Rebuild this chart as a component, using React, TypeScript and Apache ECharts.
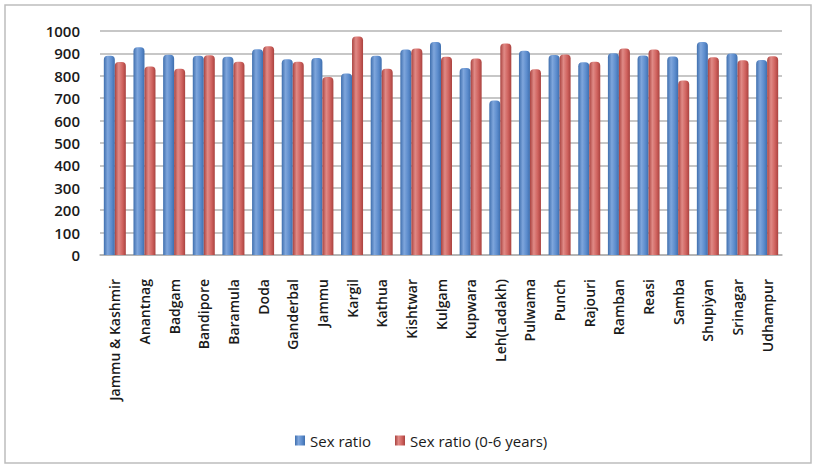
import React, { useEffect, useRef } from "react";
import * as echarts from "echarts";

const districts = [
  "Jammu & Kashmir", "Anantnag", "Badgam", "Bandipore", "Baramula", "Doda",
  "Ganderbal", "Jammu", "Kargil", "Kathua", "Kishtwar", "Kulgam", "Kupwara",
  "Leh(Ladakh)", "Pulwama", "Punch", "Rajouri", "Ramban", "Reasi", "Samba",
  "Shupiyan", "Srinagar", "Udhampur",
];

const sexRatio = [
  889, 927, 894, 889, 885, 919, 874, 880, 810, 890, 917, 951, 835,
  690, 912, 893, 860, 901, 891, 886, 951, 900, 870,
];

const childSexRatio = [
  862, 841, 832, 892, 863, 932, 863, 795, 976, 831, 922, 885, 877,
  944, 829, 895, 863, 922, 917, 779, 883, 869, 887,
];

const yTicks = [0, 100, 200, 300, 400, 500, 600, 700, 800, 900, 1000];

const cylinder = (light: string, mid: string, dark: string) =>
  new echarts.graphic.LinearGradient(0, 0, 1, 0, [
    { offset: 0, color: dark },
    { offset: 0.35, color: light },
    { offset: 0.7, color: mid },
    { offset: 1, color: dark },
  ]);

export default function App() {
  const ref = useRef<HTMLDivElement>(null);

  useEffect(() => {
    if (!ref.current) return;
    const chart = echarts.init(ref.current, null, { renderer: "svg" });
    const font = "'Open Sans', 'Noto Sans', sans-serif";
    chart.setOption({
      animation: false,
      backgroundColor: "#ffffff",
      graphic: [
        {
          type: "rect",
          shape: { x: 5, y: 5, width: 806, height: 458 },
          style: { fill: "none", stroke: "#bdbdbd", lineWidth: 1.5 },
          silent: true,
        },
      ],
      grid: { left: 100, right: 35, top: 31, bottom: 212, containLabel: false },
      legend: {
        bottom: 14,
        left: 290,
        itemWidth: 10,
        itemHeight: 10,
        itemGap: 24,
        icon: "rect",
        textStyle: { fontFamily: font, fontSize: 15, color: "#1a1a1a" },
        data: ["Sex ratio", "Sex ratio (0-6 years)"],
      },
      xAxis: {
        type: "category",
        data: districts,
        axisTick: { show: false },
        axisLine: { lineStyle: { color: "#b0b0b0", width: 1.5 } },
        axisLabel: {
          rotate: 90,
          interval: 0,
          margin: 24,
          fontFamily: font,
          fontSize: 14,
          fontWeight: 600,
          color: "#1a1a1a",
        },
      },
      yAxis: {
        type: "value",
        min: yTicks[0],
        max: yTicks[yTicks.length - 1],
        interval: 100,
        axisLine: { show: false },
        axisTick: { show: false },
        splitLine: { lineStyle: { color: "#b5b5b5", width: 1.5 } },
        axisLabel: {
          margin: 20,
          fontFamily: font,
          fontSize: 15,
          fontWeight: 600,
          color: "#1a1a1a",
          formatter: (v: number) => String(v),
        },
      },
      series: [
        {
          name: "Sex ratio",
          type: "bar",
          data: sexRatio,
          barWidth: 11,
          barGap: "0%",
          color: "#4f81bd",
          itemStyle: {
            color: cylinder("#7fa6dc", "#5c8ccd", "#3f6fae"),
            borderRadius: [4, 4, 0, 0],
          },
        },
        {
          name: "Sex ratio (0-6 years)",
          type: "bar",
          data: childSexRatio,
          barWidth: 11,
          barGap: "0%",
          color: "#c0504d",
          itemStyle: {
            color: cylinder("#e08a86", "#d0635f", "#a9423f"),
            borderRadius: [4, 4, 0, 0],
          },
        },
      ],
    });
    return () => chart.dispose();
  }, []);

  return (
    <div
      ref={ref}
      style={{ position: "fixed", left: 0, top: 0, width: 817, height: 467 }}
    />
  );
}
